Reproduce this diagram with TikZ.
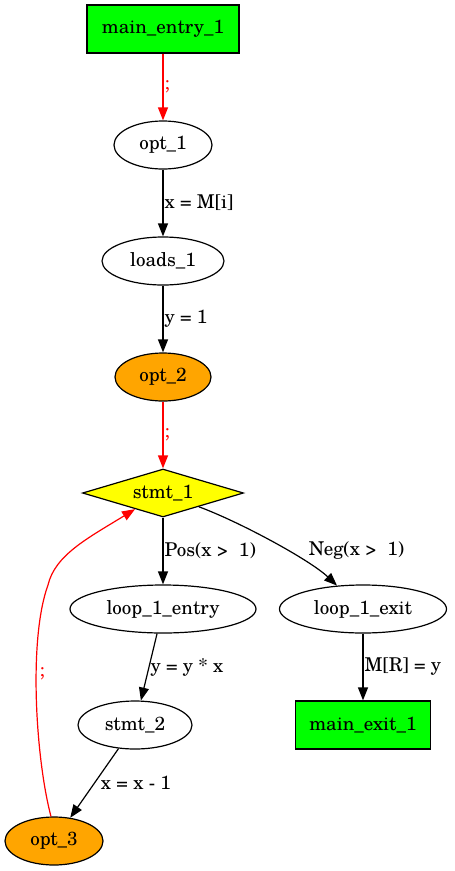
\documentclass[tikz,border=0pt]{standalone}
\usepackage{fontspec}
\setmainfont{texgyreschola-regular.otf}
\usetikzlibrary{shapes.geometric,arrows.meta}
\definecolor{termgreen}{HTML}{00FF00}
\definecolor{optorange}{HTML}{FFA500}
\definecolor{condyellow}{HTML}{FFFF00}
\definecolor{seqred}{HTML}{FF0000}
\begin{document}
\begin{tikzpicture}[x=1pt,y=-1pt,
  font=\fontsize{19}{22}\selectfont,
  every node/.style={line width=1.2pt},
  term/.style={rectangle,draw,fill=termgreen,minimum height=48pt,inner sep=0pt},
  ell/.style={ellipse,draw,minimum height=48pt,inner sep=0pt},
  opt/.style={ell,fill=optorange},
  cond/.style={diamond,draw,fill=condyellow,aspect=3.35,inner sep=0pt,minimum width=161pt,minimum height=48pt},
  flow/.style={line width=1.2pt,-{Triangle[length=13pt,width=10pt]}},
  seq/.style={flow,draw=seqred,{-{Triangle[length=13pt,width=10pt,fill=seqred]}}},
  lbl/.style={anchor=west,inner sep=1pt,midway},
  seqlbl/.style={lbl,text=seqred}]
\useasboundingbox (0,0) rectangle (455,871);

% nodes
\node[term,minimum width=152pt] (main_entry_1) at (163,29) {main\_entry\_1};
\node[ell,minimum width=98pt]   (opt_1)        at (163,145) {opt\_1};
\node[ell,minimum width=122pt]  (loads_1)      at (163,261) {loads\_1};
\node[opt,minimum width=96pt]   (opt_2)        at (163,377) {opt\_2};
\node[cond]                     (stmt_1)       at (163,493) {stmt\_1};
\node[ell,minimum width=186pt]  (loop_1_entry) at (163,609) {loop\_1\_entry};
\node[ell,minimum width=167pt]  (loop_1_exit)  at (363,609) {loop\_1\_exit};
\node[ell,minimum width=114pt]  (stmt_2)       at (135,725) {stmt\_2};
\node[term,minimum width=135pt] (main_exit_1)  at (363,725) {main\_exit\_1};
\node[opt,minimum width=98pt]   (opt_3)        at (54,841)  {opt\_3};

% connectors
\draw[seq]  (main_entry_1) -- node[seqlbl] {;} (opt_1);
\draw[flow] (opt_1) -- node[lbl] {x = M[i]} (loads_1);
\draw[flow] (loads_1) -- node[lbl] {y = 1} (opt_2);
\draw[seq]  (opt_2) -- node[seqlbl] {;} (stmt_1);
\draw[flow] (stmt_1) -- node[lbl] {Pos(x >\ \ 1)} (loop_1_entry);
\draw[flow] (stmt_1.-21) .. controls (240,522) and (310,560) ..
  node[pos=0.5,anchor=west,inner sep=1pt,xshift=34pt,yshift=-8pt] {Neg(x >\ \ 1)} (loop_1_exit.138);
\draw[flow] (loop_1_entry) -- node[lbl] {y = y * x} (stmt_2);
\draw[flow] (stmt_2) -- node[lbl,xshift=5pt] {x = x - 1} (opt_3);
\draw[flow] (loop_1_exit) -- node[lbl] {M[R] = y} (main_exit_1);
\draw[seq]  (opt_3.97) .. controls (36,760) and (28,640) ..
  node[pos=0.6,anchor=west,inner sep=0pt,xshift=3pt,text=seqred] {;} (48,585)
  .. controls (55,555) and (88,538) .. (stmt_1.-150);
\end{tikzpicture}
\end{document}
